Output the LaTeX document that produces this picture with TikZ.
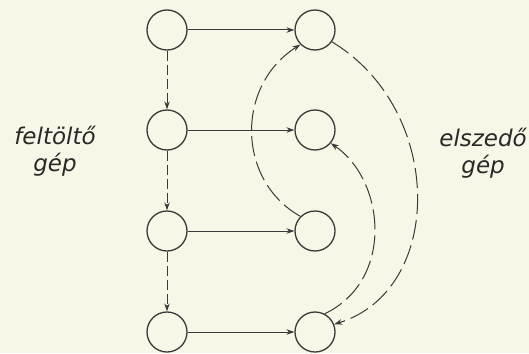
\documentclass[tikz,border=0pt]{standalone}
\usepackage{fontspec}
\setmainfont{DejaVu Sans}
\usetikzlibrary{arrows.meta}
\definecolor{paper}{HTML}{F8F6E6}
\definecolor{ink}{HTML}{3A3A38}
\begin{document}
\begin{tikzpicture}[x=1pt,y=-1pt,
  st/.style={circle,draw=ink,line width=1.3pt,minimum size=40pt,inner sep=0pt},
  conn/.style={draw=ink,line width=1.0pt,-{Stealth[length=8pt,width=5.5pt]}},
  vdash/.style={conn,dash pattern=on 10pt off 4pt},
  adash/.style={conn,dash pattern=on 20pt off 6pt},
  lbl/.style={font=\itshape\fontsize{23}{27}\selectfont,text=ink!70!black,align=center,inner sep=0pt}]
\fill[paper] (0,0) rectangle (529,353);
\useasboundingbox (0,0) rectangle (529,353);
\node[st] (l1) at (167,30) {};
\node[st] (l2) at (167,130) {};
\node[st] (l3) at (167,231) {};
\node[st] (l4) at (167,332) {};
\node[st] (r1) at (315,30) {};
\node[st] (r2) at (315,130) {};
\node[st] (r3) at (315,231) {};
\node[st] (r4) at (315,332) {};
\foreach \i in {1,2,3,4} \draw[conn] (l\i) -- (r\i);
\draw[vdash] (l1) -- (l2);
\draw[vdash] (l2) -- (l3);
\draw[vdash] (l3) -- (l4);
\draw[adash] (r3.135) .. controls (236,180) and (236,85) .. (r1.225);
\draw[adash] (r1.-35) .. controls (445,110) and (445,290) .. (r4.22);
\draw[adash] (r4.62) .. controls (395,280) and (385,180) .. (r2.-40);
\node[lbl] (fl) at (55,151) {feltöltő\\gép};
\node[lbl,anchor=east] (el) at (527,153) {elszedő\\gép};
\end{tikzpicture}
\end{document}
